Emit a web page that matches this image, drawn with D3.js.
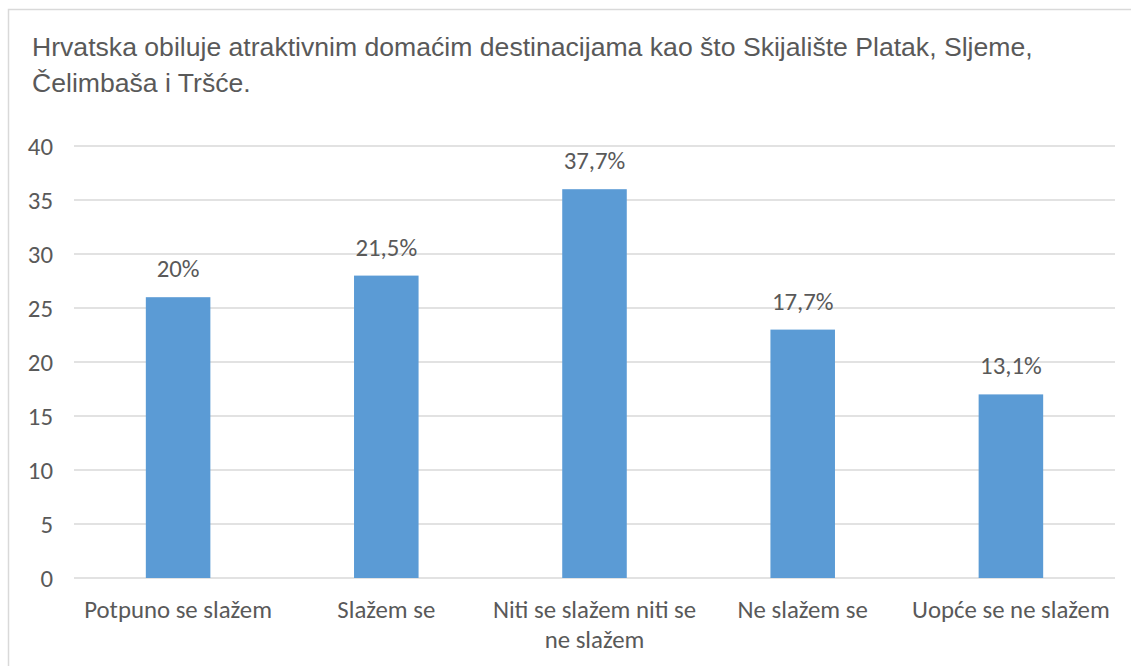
<!DOCTYPE html>
<html><head><meta charset="utf-8">
<script src="https://cdn.jsdelivr.net/npm/d3@7"></script>
<style>body{margin:0;background:#fff}</style>
</head><body>
<svg id="c" width="1131" height="666"></svg>
<script>
const categories = [["Potpuno se slažem"], ["Slažem se"], ["Niti se slažem niti se", "ne slažem"], ["Ne slažem se"], ["Uopće se ne slažem"]];
const values = [26, 28, 36, 23, 17];
const labels = ["20%", "21,5%", "37,7%", "17,7%", "13,1%"];
const yTicks = [0, 5, 10, 15, 20, 25, 30, 35, 40];
const titleLines = ["Hrvatska obiluje atraktivnim domaćim destinacijama kao što Skijalište Platak, Sljeme,", "Čelimbaša i Tršće."];

const svg = d3.select("#c");
svg.append("rect").attr("x", 8.5).attr("y", 9.5).attr("width", 1140).attr("height", 700)
  .attr("fill", "#fff").attr("stroke", "#d9d9d9").attr("stroke-width", 1.5);

const title = svg.append("text").attr("font-family", "Liberation Sans, Arial, sans-serif")
  .attr("font-size", 26.6).attr("fill", "#595959");
titleLines.forEach((t, i) => title.append("tspan").attr("x", 32).attr("y", 56 + i * 36).text(t));

const x = d3.scaleBand().domain(d3.range(values.length)).range([74, 1115]).paddingInner(0.69).paddingOuter(0.345);
const y = d3.scaleLinear().domain([0, 40]).range([578, 146]);

const g = svg.append("g");
g.selectAll("line.grid").data(yTicks).join("line")
  .attr("x1", 74).attr("x2", 1115).attr("y1", d => y(d)).attr("y2", d => y(d))
  .attr("stroke", "#d9d9d9").attr("stroke-width", 1.5);

const font = "Carlito, 'Open Sans', 'Noto Sans', sans-serif";
const fs = 24.8;
g.selectAll("text.yt").data(yTicks).join("text")
  .attr("x", 53).attr("y", d => y(d)).attr("dy", "0.35em").attr("text-anchor", "end")
  .attr("font-family", font).attr("font-size", fs).attr("fill", "#595959").text(d => d);

g.selectAll("rect.bar").data(values).join("rect")
  .attr("x", (d, i) => x(i)).attr("width", x.bandwidth())
  .attr("y", d => y(d)).attr("height", d => y(0) - y(d)).attr("fill", "#5b9bd5");

g.selectAll("text.lab").data(values).join("text")
  .attr("x", (d, i) => x(i) + x.bandwidth() / 2).attr("y", d => y(d) - 20)
  .attr("text-anchor", "middle").attr("font-family", font).attr("font-size", fs).attr("fill", "#595959")
  .text((d, i) => labels[i]);

categories.forEach((lines, i) => {
  const t = g.append("text").attr("text-anchor", "middle").attr("font-family", font)
    .attr("font-size", fs).attr("fill", "#595959");
  lines.forEach((l, j) => t.append("tspan").attr("x", x(i) + x.bandwidth() / 2).attr("y", 618 + j * 30).text(l));
});
</script>
</body></html>
